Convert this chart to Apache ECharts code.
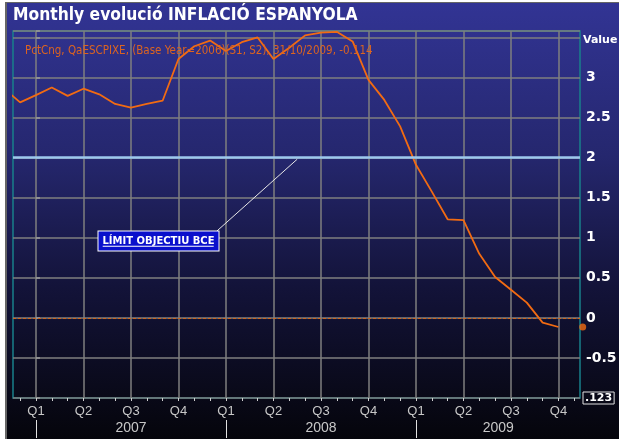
<!DOCTYPE html>
<html>
<head>
<meta charset="utf-8">
<script src="https://cdn.jsdelivr.net/npm/echarts@6/dist/echarts.min.js"></script>
<style>
body { margin: 0; background: #fff; }
#wrap { position: relative; width: 626px; height: 439px; background: #fff; }
#bg {
    position: absolute; left: 5px; top: 2px; width: 612px; height: 437px;
    border-left: 2px solid #666; border-top: 1px solid #666;
    background: linear-gradient(to bottom, #323494 0%, #25276e 35%, #131339 65%, #05050b 100%);
}
#chart { position: absolute; left: 0; top: 0; width: 626px; height: 439px; }
</style>
</head>
<body>
<div id="wrap">
    <div id="bg"></div>
    <div id="chart"></div>
</div>
<script>
// monthly % change, Nov 2006 .. Oct 2009
var months = ['2006-11','2006-12',
    '2007-01','2007-02','2007-03','2007-04','2007-05','2007-06','2007-07','2007-08','2007-09','2007-10','2007-11','2007-12',
    '2008-01','2008-02','2008-03','2008-04','2008-05','2008-06','2008-07','2008-08','2008-09','2008-10','2008-11','2008-12',
    '2009-01','2009-02','2009-03','2009-04','2009-05','2009-06','2009-07','2009-08','2009-09','2009-10'];
var values = [2.86, 2.69,
    2.78, 2.875, 2.77, 2.86, 2.79, 2.67, 2.625, 2.67, 2.71, 3.23, 3.39, 3.46,
    3.33, 3.44, 3.50, 3.23, 3.37, 3.525, 3.56, 3.57, 3.45, 2.97, 2.72, 2.39,
    1.91, 1.575, 1.23, 1.22, 0.80, 0.51, 0.35, 0.19, -0.06, -0.114];
var lastValue = -0.114;
var quarterLabels = ['Q1', 'Q2', 'Q3', 'Q4'];
var yearLabels = ['2007', '2008', '2009'];
var yearLabelPos = [6, 18, 29.2];   // month index (0 = Jan 2007)
var yearStarts = [0, 12, 24];
var targetValue = 2;
var targetText = 'LÍMIT OBJECTIU BCE';
var legendText = 'PctCng, QaESCPIXE, (Base Year=2006)(S1, S2), 31/10/2009, -0.114';

function monthIndex(s) {
    var p = s.split('-');
    return (parseInt(p[0]) - 2007) * 12 + parseInt(p[1]) - 1;
}

var seriesData = [];
for (var i = 0; i < months.length; i++) {
    seriesData.push([monthIndex(months[i]), values[i]]);
}
var quarterTicks = [];
for (var q = 0; q < 36; q += 3) quarterTicks.push(q);
var monthTicks = [];
for (var m = -1; m <= 34; m++) monthTicks.push(m);

var xMin = -1.45, xMax = 34.36;
var orange = '#f26b12';

var myChart = echarts.init(document.getElementById('chart'));
var option = {
    backgroundColor: 'transparent',
    animation: false,
    title: [{
        text: 'Monthly evolució INFLACIÓ ESPANYOLA',
        left: 13, top: 7, padding: 0,
        textStyle: { color: '#fff', fontSize: 17.3, fontWeight: 'bold', fontFamily: 'DejaVu Sans Condensed, DejaVu Sans' }
    }, {
        text: legendText,
        left: 25, top: 45, padding: 0,
        textStyle: { color: '#dc6420', fontSize: 11.5, fontWeight: 'normal', fontFamily: 'DejaVu Sans Condensed, DejaVu Sans' }
    }],
    grid: {
        left: 13, right: 46, top: 31, bottom: 41,
        outerBoundsMode: 'none', containLabel: false,
        show: true, borderColor: '#19808a', borderWidth: 1.5, backgroundColor: 'transparent'
    },
    xAxis: [{
        type: 'value', position: 'bottom', min: xMin, max: xMax,
        axisLine: { show: false },
        axisTick: { show: false, customValues: quarterTicks },
        splitLine: { show: true, lineStyle: { color: '#7f7f7f', width: 1.5 } },
        axisLabel: {
            customValues: quarterTicks, margin: 7, color: '#c8c8c8', fontSize: 13,
            fontFamily: 'Liberation Sans, Arial',
            formatter: function (v) { return quarterLabels[Math.round(v / 3) % 4]; }
        }
    }, {
        type: 'value', position: 'bottom', min: xMin, max: xMax,
        axisLine: { show: false },
        axisTick: { show: true, customValues: monthTicks, length: 3, lineStyle: { color: '#cfcfcf' } },
        splitLine: { show: false },
        axisLabel: { show: false }
    }, {
        type: 'value', position: 'bottom', min: xMin, max: xMax, offset: 22,
        axisLine: { show: false },
        axisTick: { show: true, customValues: yearStarts, length: 18, lineStyle: { color: '#e0e0e0', width: 1 } },
        splitLine: { show: false },
        axisLabel: {
            customValues: yearLabelPos, margin: 1, color: '#c8c8c8', fontSize: 14,
            fontFamily: 'Liberation Sans, Arial',
            formatter: function (v) {
                for (var k = 0; k < yearLabelPos.length; k++) {
                    if (Math.abs(yearLabelPos[k] - v) < 0.01) return yearLabels[k];
                }
                return '';
            }
        }
    }],
    yAxis: {
        type: 'value', position: 'right', min: -1, max: 3.58, interval: 0.5,
        axisLine: { show: false },
        axisTick: { show: true, length: 4, lineStyle: { color: '#9a9a9a', width: 1.5 } },
        splitLine: { lineStyle: { color: '#7f7f7f', width: 1.5 } },
        axisLabel: {
            margin: 3,
            formatter: function (v) {
                if (Math.abs(v - 3.5) < 1e-6) return '{v|Value}';
                if (Math.abs(v + 1) < 1e-6) return '{b|.123}';
                if (Math.abs(v * 2 - Math.round(v * 2)) > 1e-6) return '';
                return '{n|' + v + '}';
            },
            rich: {
                n: { color: '#fff', fontSize: 14, fontWeight: 'bold', fontFamily: 'DejaVu Sans', padding: [0, 0, 0, 3] },
                v: { color: '#fff', fontSize: 11, fontWeight: 'bold', fontFamily: 'DejaVu Sans', padding: [5, 0, 0, 0] },
                b: { color: '#fff', fontSize: 11, fontWeight: 'bold', fontFamily: 'DejaVu Sans',
                     borderColor: '#e0e0e0', borderWidth: 1, padding: [1, 2, 0, 2] }
            }
        }
    },
    series: [{
        name: 'PctCng',
        type: 'line',
        data: seriesData,
        symbol: 'none',
        lineStyle: { color: orange, width: 1.8 },
        z: 4
    }, {
        name: 'lines',
        type: 'line',
        data: [],
        z: 3,
        markLine: {
            silent: true, symbol: 'none', animation: false,
            label: { show: false },
            data: [
                { yAxis: targetValue, lineStyle: { color: '#9cc8ee', width: 2.5, type: 'solid' } },
                { yAxis: 0, lineStyle: { color: '#d0661e', width: 1, type: [3, 2] } },
                [{ coord: [11.43, 1.084] }, { coord: [16.5, 1.98] }]
            ],
            lineStyle: { color: '#e8e8e8', width: 1, type: 'solid' }
        }
    }, {
        name: 'note',
        type: 'line',
        data: [],
        z: 6,
        markPoint: {
            silent: true, symbol: 'rect', symbolSize: 0, animation: false,
            data: [{ coord: [7.74, 0.96] }],
            label: {
                show: true, position: 'inside', formatter: targetText,
                color: '#fff', fontSize: 10, fontWeight: 'bold', fontFamily: 'DejaVu Sans',
                backgroundColor: '#0a10cc', borderColor: '#fff', borderWidth: 1,
                padding: [5, 4, 4, 4]
            }
        }
    }, {
        // underline of the note text
        name: 'underline',
        type: 'line',
        data: [],
        z: 7,
        markPoint: {
            silent: true, symbol: 'rect', symbolSize: 0, animation: false,
            data: [{ coord: [7.72, 0.895] }],
            label: {
                show: true, position: 'inside', formatter: '{u|}',
                rich: { u: { width: 111, height: 1, backgroundColor: '#fff' } }
            }
        }
    }, {
        name: 'last',
        type: 'scatter',
        clip: false,
        data: [[34.53, lastValue]],
        symbolSize: 7,
        itemStyle: { color: orange },
        z: 8
    }]
};
myChart.setOption(option);
</script>
</body>
</html>
